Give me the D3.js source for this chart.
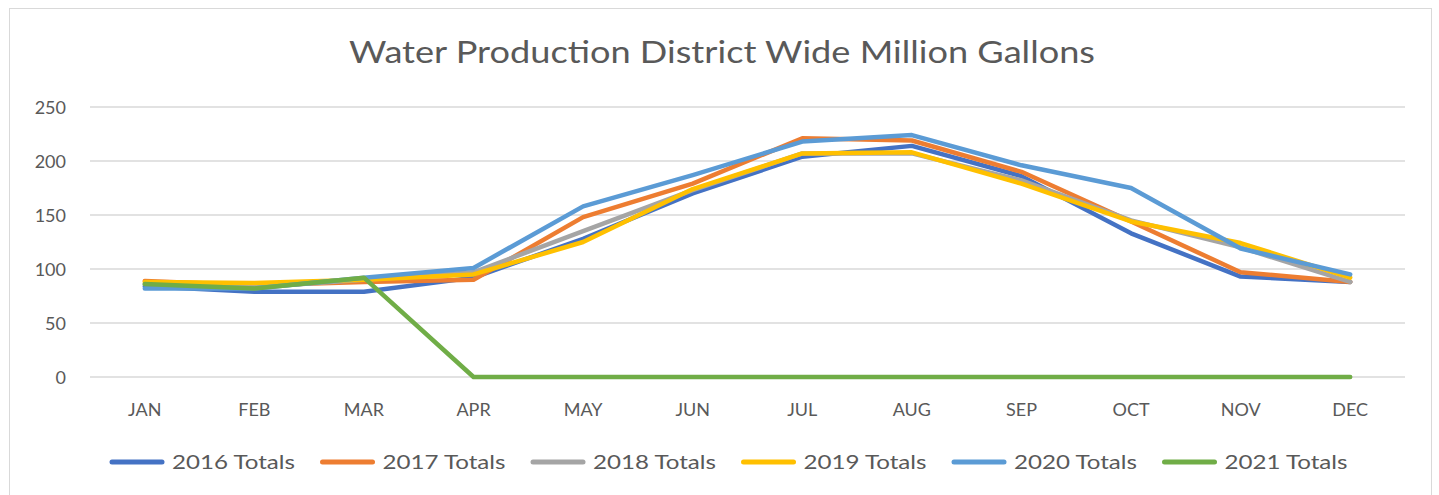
<!DOCTYPE html>
<html><head><meta charset="utf-8">
<script src="https://cdn.jsdelivr.net/npm/d3@7"></script>
<style>body{margin:0;background:#fff}svg{display:block}text{font-family:Lato,"Open Sans",sans-serif;fill:#595959}</style>
</head><body>
<svg id="c" width="1439" height="495"></svg>
<script>
const months = ["JAN","FEB","MAR","APR","MAY","JUN","JUL","AUG","SEP","OCT","NOV","DEC"];
const yTicks = [0,50,100,150,200,250];
const seriesNames = ["2016 Totals","2017 Totals","2018 Totals","2019 Totals","2020 Totals","2021 Totals"];
const v2016 = [84,79,79,92,128,170,204,214,186,133,93,88];
const v2017 = [89,85,88,90,148,179,221,219,190,144,97,88];
const v2018 = [86,83,90,97,135,173,207,207,182,145,120,88];
const v2019 = [88,87,90,95,125,174,207,208,179,144,124,92];
const v2020 = [82,82,92,101,158,187,218,224,196,175,119,95];
const v2021 = [86,82,92,0,0,0,0,0,0,0,0,0];
const seriesValues = [v2016,v2017,v2018,v2019,v2020,v2021];
const colors = ["#4472C4","#ED7D31","#A5A5A5","#FFC000","#5B9BD5","#70AD47"];

const svg = d3.select("#c");
svg.append("rect").attr("x",9.5).attr("y",8.5).attr("width",1422).attr("height",490)
  .attr("fill","#fff").attr("stroke","#d9d9d9").attr("stroke-width",1);

svg.append("text").attr("x",722).attr("y",63).attr("text-anchor","middle")
  .attr("font-size",31).attr("textLength",746).attr("lengthAdjust","spacingAndGlyphs")
  .text("Water Production District Wide Million Gallons");

const x = d3.scaleBand().domain(months).range([90,1405]);
const y = d3.scaleLinear().domain([0,250]).range([377,107]);

const grid = svg.append("g");
grid.selectAll("line").data(yTicks).join("line")
  .attr("x1",90).attr("x2",1405).attr("y1",d=>y(d)).attr("y2",d=>y(d))
  .attr("stroke","#d9d9d9").attr("stroke-width",1.3);

const yAxis = svg.append("g").attr("transform","translate(66,0)")
  .call(d3.axisLeft(y).tickValues(yTicks).tickSize(0).tickPadding(0));
yAxis.select(".domain").remove();
yAxis.selectAll("text").attr("font-size",18).attr("fill","#595959").attr("dy","0.35em")
  .style("font-family","Lato,sans-serif");

const xAxis = svg.append("g").attr("transform","translate(0,403)")
  .call(d3.axisBottom(x).tickSize(0).tickPadding(0));
xAxis.select(".domain").remove();
xAxis.selectAll("text").attr("font-size",18).attr("fill","#595959").attr("dy","0.71em")
  .style("font-family","Lato,sans-serif");

const line = d3.line().x((d,i)=>x(months[i])+x.bandwidth()/2).y(d=>y(d));
seriesValues.forEach((vals,k)=>{
  svg.append("path").datum(vals).attr("d",line).attr("fill","none")
    .attr("stroke",colors[k]).attr("stroke-width",4.5)
    .attr("stroke-linejoin","round").attr("stroke-linecap","round");
});

const legend = svg.append("g");
seriesNames.forEach((n,k)=>{
  const gx = 110 + k*210.5;
  legend.append("line").attr("x1",gx+2).attr("x2",gx+52).attr("y1",462).attr("y2",462)
    .attr("stroke",colors[k]).attr("stroke-width",5).attr("stroke-linecap","round");
  legend.append("text").attr("x",gx+62).attr("y",462).attr("dy","0.35em")
    .attr("font-size",19).attr("textLength",123).attr("lengthAdjust","spacingAndGlyphs").text(n);
});
</script>
</body></html>
